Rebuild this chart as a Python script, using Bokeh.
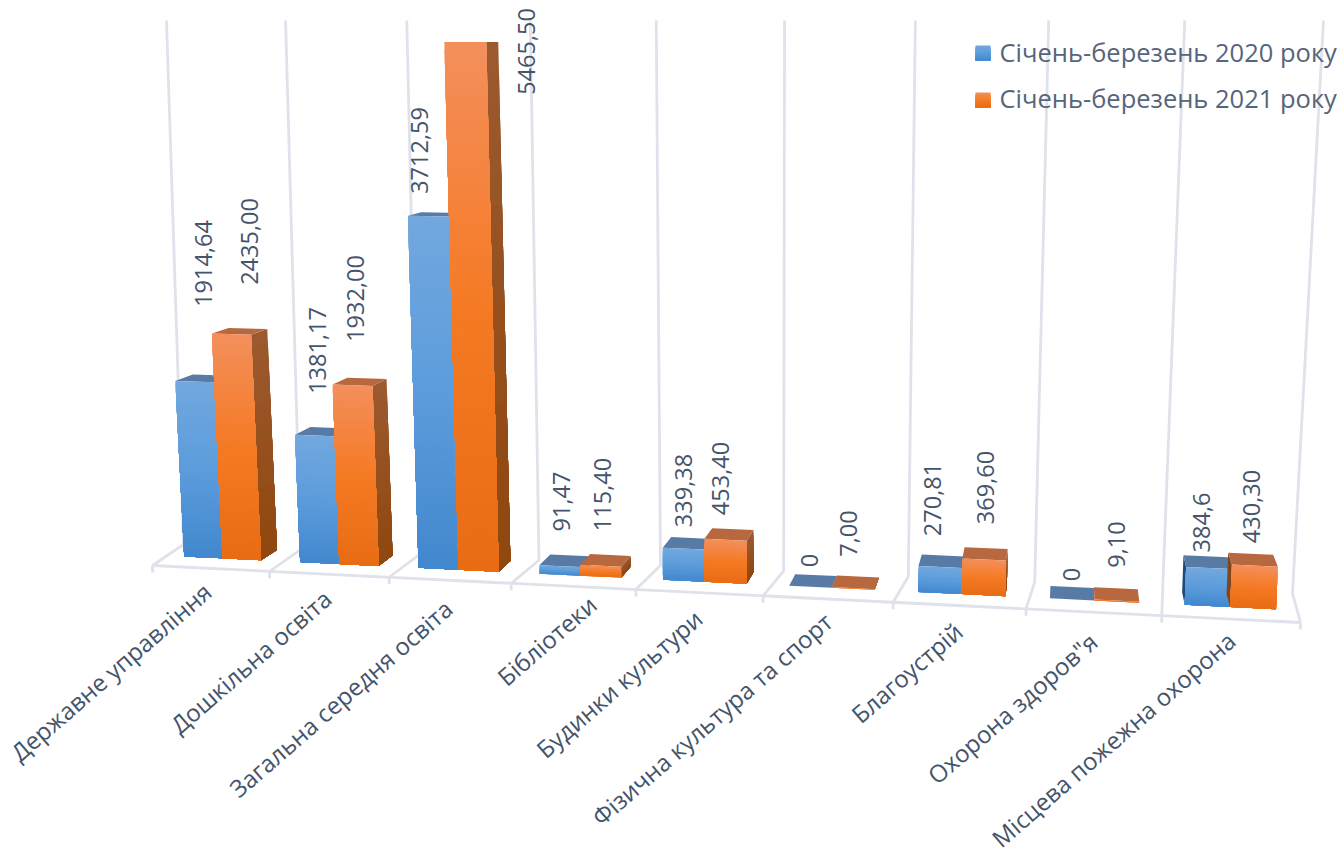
import numpy as np
from bokeh.plotting import figure
from bokeh.models import Range1d
from bokeh.core.properties import value
from bokeh.embed import file_html
from bokeh.resources import INLINE

categories = ["Державне управління", "Дошкільна освіта", "Загальна середня освіта",
              "Бібліотеки", "Будинки культури", "Фізична культура та спорт",
              "Благоустрій", "Охорона здоров\"я", "Місцева пожежна охорона"]
series_names = ["Січень-березень 2020 року", "Січень-березень 2021 року"]
values_2020 = [1914.64, 1381.17, 3712.59, 91.47, 339.38, 0, 270.81, 0, 384.6]
values_2021 = [2435.00, 1932.00, 5465.50, 115.40, 453.40, 7.00, 369.60, 9.10, 430.30]
labels_2020 = ["1914,64", "1381,17", "3712,59", "91,47", "339,38", "0", "270,81", "0", "384,6"]
labels_2021 = ["2435,00", "1932,00", "5465,50", "115,40", "453,40", "7,00", "369,60", "9,10", "430,30"]

# ---- layout / camera (page pixels) ----
W, H = 1344, 858
CAT_END = [(207, 587), (327, 594), (448, 604), (592, 600), (698, 614), (828, 617), (958, 627), (1093, 637), (1231, 636)]
LAB_2020 = [(203, 263), (317, 350), (419, 150), (561, 501), (683, 490), (809, 560), (932, 499), (1071, 574), (1201, 522)]
LAB_2021 = [(249, 241), (355, 298), (526, 51), (602, 494), (720, 478), (848, 533), (985, 487), (1116, 544), (1251, 506)]
VMAX = 6000.0
BAR_CORNERS = [((0, 0), (183.7, 556)), ((9, 0), (1322, 611)), ((0, VMAX), (155, -12)), ((9, VMAX), (1352, -15))]
VP = np.array([1070.0, 43.0])
BAR_W = 0.3325
BLUE = dict(front=[(114, 168, 222), (92, 156, 220), (66, 136, 206)], side=[(62, 105, 155), (40, 85, 135)],
            top=(88, 123, 166), left=(29, 74, 120))
ORANGE = dict(front=[(244, 143, 92), (245, 122, 36), (232, 108, 20)], side=[(156, 90, 48), (143, 71, 14)],
              top=(184, 104, 62), left=(130, 70, 30))
GRID = "#dfe2ea"
TEXT = "#44546a"


def homography(pairs):
    A, b = [], []
    for (u, v), (x, y) in pairs:
        A.append([u, v, 1, 0, 0, 0, -u * x, -v * x]); b.append(x)
        A.append([0, 0, 0, u, v, 1, -u * y, -v * y]); b.append(y)
    return np.linalg.solve(np.array(A, float), np.array(b, float))


pairs_scaled = [((u, v / VMAX), xy) for (u, v), xy in BAR_CORNERS]
HM = homography(pairs_scaled)


def proj(u, v):
    v = v / VMAX
    w = HM[6] * u + HM[7] * v + 1
    return np.array([(HM[0] * u + HM[1] * v + HM[2]) / w, (HM[3] * u + HM[4] * v + HM[5]) / w])


def back(pt, u):
    a = 0.0194 * (1 + 0.02 * u)
    return pt + a * (VP - pt)


def lerp_line(A, B, u, k):
    t = u / (u + k * (9 - u))
    return (A[0] + (B[0] - A[0]) * t, A[1] + (B[1] - A[1]) * t)


def mix(stops, t):
    n = len(stops) - 1
    i = min(int(t * n), n - 1)
    f = t * n - i
    c = [stops[i][j] * (1 - f) + stops[i + 1][j] * f for j in range(3)]
    return "#%02x%02x%02x" % tuple(int(round(x)) for x in c)


p = figure(width=W, height=H, x_range=Range1d(0, W), y_range=Range1d(H, 0),
           x_axis_location=None, y_axis_location=None, toolbar_location=None,
           output_backend="svg", min_border=0, outline_line_color=None)
p.grid.visible = False
p.background_fill_color = "white"

# floor + walls
gx, gy = [], []
for i in range(10):
    top = lerp_line((166, 20), (1323, 20), i, 1.09)
    base = lerp_line((183, 544), (1292, 593), i, 1.06)
    front = lerp_line((152, 565), (1300, 622), i, 1.10)
    gx.append([top[0], base[0], front[0]]); gy.append([top[1], base[1], front[1]])
    gx.append([front[0], front[0]]); gy.append([front[1], front[1] + 7])
gx.append([152, 1300]); gy.append([565, 622])
p.multi_line(gx, gy, line_color=GRID, line_width=2.8)

# bars
xs, ys, cs = [], [], []


def add(poly, color):
    xs.append([q[0] for q in poly]); ys.append([q[1] for q in poly]); cs.append(color)


def strips(tl, tr, bl, br, stops, n=None):
    h = abs(bl[1] - tl[1])
    if n is None:
        n = int(max(4, min(70, h / 2.5)))
    for k in range(n):
        t0, t1 = k / n, 1.0
        a = [tl[j] + (bl[j] - tl[j]) * t0 for j in (0, 1)]
        b = [tr[j] + (br[j] - tr[j]) * t0 for j in (0, 1)]
        c = [tr[j] + (br[j] - tr[j]) * t1 for j in (0, 1)]
        d = [tl[j] + (bl[j] - tl[j]) * t1 for j in (0, 1)]
        add([a, b, c, d], mix(stops, (k + 0.5) / n))


for i in range(len(categories)):
    for s, (vals, st) in enumerate([(values_2020, BLUE), (values_2021, ORANGE)]):
        u0 = i + s * BAR_W
        u1 = u0 + BAR_W
        v = vals[i]
        fbl, fbr, ftl, ftr = proj(u0, 0), proj(u1, 0), proj(u0, v), proj(u1, v)
        bbl, bbr, btl, btr = back(fbl, u0), back(fbr, u1), back(ftl, u0), back(ftr, u1)
        if btl[0] < ftl[0]:
            add([ftl, btl, bbl, fbl], mix([st["left"], st["left"]], 0))
        if btr[0] > ftr[0]:
            strips(ftr, btr, fbr, bbr, st["side"], n=16)
        add([ftl, ftr, btr, btl], mix([st["top"], st["top"]], 0))
        if v > 0:
            strips(ftl, ftr, fbl, fbr, st["front"])

# legend keys
for (lx, ly), st in zip([(975, 45), (975, 92)], [BLUE, ORANGE]):
    strips((lx, ly), (lx + 15, ly), (lx, ly + 15), (lx + 15, ly + 15), st["front"], n=12)

p.patches(xs, ys, fill_color=cs, line_color=None)

font = value("Open Sans")
p.text([c[0] for c in CAT_END], [c[1] for c in CAT_END], text=categories, angle=np.radians(41),
       text_align="right", text_baseline="middle", text_font=font, text_font_size="24px", text_color=TEXT)
for pos, labs in [(LAB_2020, labels_2020), (LAB_2021, labels_2021)]:
    p.text([c[0] for c in pos], [c[1] for c in pos], text=labs, angle=np.pi / 2,
           text_align="center", text_baseline="middle", text_font=font, text_font_size="23.5px", text_color=TEXT)
p.text([999, 999], [51, 97], text=series_names, text_align="left", text_baseline="middle",
       text_font=font, text_font_size="25.5px", text_color="#56657b")

open("out.html", "w").write(file_html(p, INLINE))
